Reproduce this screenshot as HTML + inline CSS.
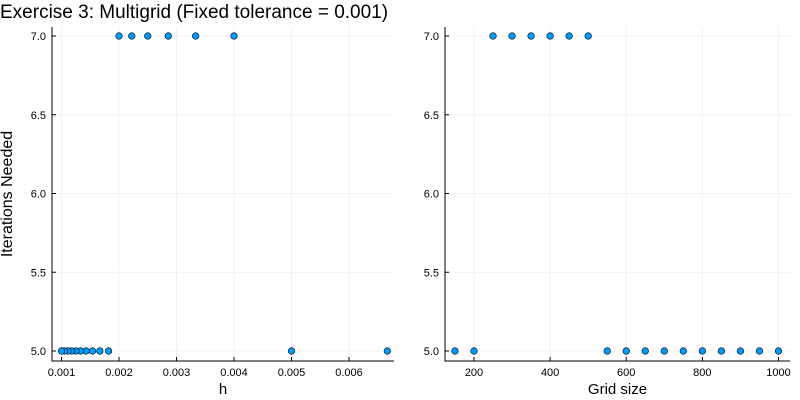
<!DOCTYPE html>
<html><head><meta charset="utf-8"><style>
body{margin:0;background:#fff}
svg{display:block;font-family:"Liberation Sans","DejaVu Sans",sans-serif}
</style></head><body>
<svg id="c" width="800" height="400"></svg>
<script>
const gridSizes=[150,200,250,300,350,400,450,500,550,600,650,700,750,800,850,900,950,1000];
const iterations=[5,5,7,7,7,7,7,7,5,5,5,5,5,5,5,5,5,5];
const hTicks=[0.001,0.002,0.003,0.004,0.005,0.006];
const hTickLabels=["0.001","0.002","0.003","0.004","0.005","0.006"];
const nTicks=[200,400,600,800,1000];
const nTickLabels=["200","400","600","800","1000"];
const yTicks=[5.0,5.5,6.0,6.5,7.0];
const yTickLabels=["5.0","5.5","6.0","6.5","7.0"];
const hValues=gridSizes.map(n=>1/n);

const svg=document.getElementById('c');
const NS='http://www.w3.org/2000/svg';
function el(t,a,p){const e=document.createElementNS(NS,t);for(const k in a)e.setAttribute(k,a[k]);(p||svg).appendChild(e);return e;}
const yS=v=>351-(v-5)*(351-36)/2;

function panel(name,x0,x1,xS,xs,xt,xtl,xlabel){
  const g=el('g',{});
  
  
  const top=27,bot=361;
  xt.forEach((t,i)=>{
    const x=xS(t);
    const gl=el('line',{x1:x,x2:x,y1:top,y2:bot,stroke:'#f0f0f0','stroke-width':1},g);
    
    el('line',{x1:x,x2:x,y1:bot,y2:bot-4,stroke:'#000','stroke-width':1},g);
    const tx=el('text',{x:x,y:bot+15,'font-size':11,'text-anchor':'middle',fill:'#000'},g);
    tx.textContent=xtl[i];
    
  });
  yTicks.forEach((t,i)=>{
    const y=yS(t);
    const gl=el('line',{x1:x0,x2:x1,y1:y,y2:y,stroke:'#f0f0f0','stroke-width':1},g);
    
    el('line',{x1:x0,x2:x0+4,y1:y,y2:y,stroke:'#000','stroke-width':1},g);
    const tx=el('text',{x:x0-6,y:y+4,'font-size':11,'text-anchor':'end',fill:'#000'},g);
    tx.textContent=yTickLabels[i];
    
  });
  const ax=el('path',{d:`M${x0},${top}V${bot}H${x1}`,stroke:'#000','stroke-width':1,fill:'none'},g);
  
  xs.forEach((v,i)=>{
    const c=el('circle',{cx:xS(v),cy:yS(iterations[i]),r:3.3,fill:'#009af9',stroke:'#000','stroke-width':0.6},g);
    
  });
  const xl=el('text',{x:(x0+x1)/2,y:394,'font-size':15,'text-anchor':'middle',fill:'#000'},g);
  xl.textContent=xlabel;
  
}
panel('h-panel',52,394,v=>61.5+(v-0.001)*57500,hValues,hTicks,hTickLabels,'h');
panel('grid-size-panel',445,790,v=>474+(v-200)*0.3806,gridSizes,nTicks,nTickLabels,'Grid size');

const yl=el('text',{x:0,y:0,'font-size':16,'text-anchor':'middle',fill:'#000',transform:'translate(12,194) rotate(-90)'});
yl.textContent='Iterations Needed';

const tt=el('text',{x:0,y:18,'font-size':19,fill:'#000'});
tt.textContent='Exercise 3: Multigrid (Fixed tolerance = 0.001)';

</script>
</body></html>
